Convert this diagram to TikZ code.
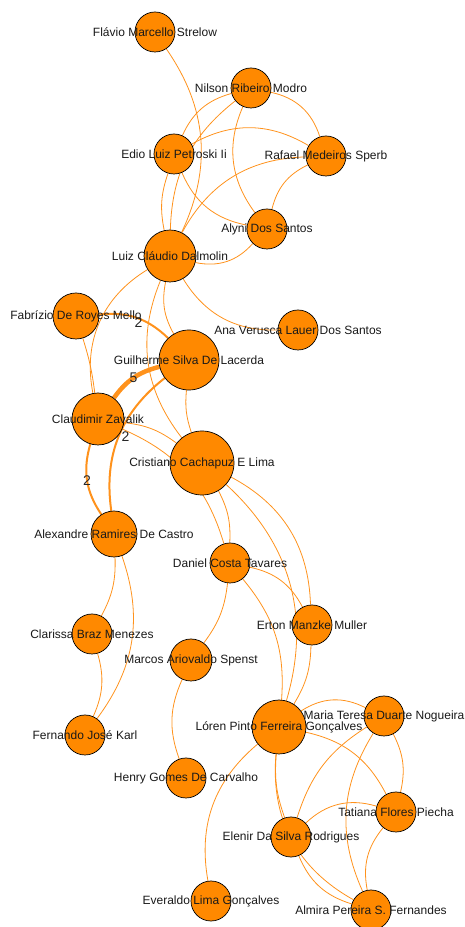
\documentclass[tikz,border=0pt]{standalone}
\usepackage{fontspec}
\setmainfont{Liberation Sans}
\usetikzlibrary{backgrounds}
\definecolor{nodeorange}{RGB}{255,137,0}
\definecolor{linkorange}{RGB}{255,146,28}
\tikzset{
  person/.style = {circle, draw=black, fill=nodeorange, inner sep=0pt,
    minimum size=40pt, line width=0.7pt},
  dia/.style = {minimum size=#1pt},
  who/.style = {font=\fontsize{12}{14}\selectfont, text=black!90,
    inner sep=0pt},
  link/.style = {draw=linkorange, line width=0.8pt},
  wt/.style = {font=\fontsize{14}{16}\selectfont, text=black!85,
    inner sep=0pt}
}
\begin{document}
\begin{tikzpicture}[x=1pt, y=1pt]
\path[use as bounding box] (0,0) rectangle (465,927);
\node[person, label={[who]center:Flávio Marcello Strelow}] (F) at (155,895) {};
\node[person, label={[who]center:Nilson Ribeiro Modro}] (N) at (251,839) {};
\node[person, label={[who]center:Edio Luiz Petroski Ii}] (E) at (174,773) {};
\node[person, label={[who]center:Rafael Medeiros Sperb}] (R) at (326,771) {};
\node[person, label={[who]center:Alyni Dos Santos}] (A) at (267,698) {};
\node[person, dia=52, label={[who]center:Luiz Cláudio Dalmolin}] (L) at (170,671) {};
\node[person, dia=46, label={[who]center:Fabrízio De Royes Mello}] (Fa) at (76,611) {};
\node[person, label={[who]center:Ana Verusca Lauer Dos Santos}] (Ana) at (298,597) {};
\node[person, dia=60, label={[who]center:Guilherme Silva De Lacerda}] (G) at (189,567) {};
\node[person, dia=52, label={[who]center:Claudimir Zavalik}] (C) at (98,508) {};
\node[person, dia=64, label={[who]center:Cristiano Cachapuz E Lima}] (Cr) at (202,464) {};
\node[person, dia=46, label={[who]center:Alexandre Ramires De Castro}] (Al) at (114,393) {};
\node[person, label={[who]center:Daniel Costa Tavares}] (D) at (230,364) {};
\node[person, label={[who]center:Erton Manzke Muller}] (Er) at (312,302) {};
\node[person, label={[who]center:Clarissa Braz Menezes}] (Cl) at (92,293) {};
\node[person, dia=42, label={[who]center:Marcos Ariovaldo Spenst}] (M) at (191,267) {};
\node[person, label={[who]center:Fernando José Karl}] (Fe) at (85,192) {};
\node[person, dia=54, label={[who]center:Lóren Pinto Ferreira Gonçalves}] (Lo) at (279,200) {};
\node[person, label={[who]center:Maria Teresa Duarte Nogueira}] (Ma) at (384,211) {};
\node[person, label={[who]center:Henry Gomes De Carvalho}] (H) at (186,149) {};
\node[person, label={[who]center:Tatiana Flores Piecha}] (T) at (396,115) {};
\node[person, label={[who]center:Elenir Da Silva Rodrigues}] (El) at (291,90) {};
\node[person, label={[who]center:Everaldo Lima Gonçalves}] (Ev) at (211,26) {};
\node[person, label={[who]center:Almira Pereira S. Fernandes}] (Am) at (371,17) {};
\begin{scope}[on background layer, every path/.style=link]
\draw (F) to[bend left=30] (L);
\draw (N) to[bend right=25] (E);
\draw (N) to[bend right=25] (L);
\draw (N) to[bend left=30] (R);
\draw (N) to[bend right=30] (A);
\draw (E) to[bend left=30] (R);
\draw (E) to[bend right=28] (A);
\draw (E) to[bend right=15] (L);
\draw (R) to[bend right=30] (L);
\draw (R) to[bend right=25] (A);
\draw (L) to[bend right=30] (A);
\draw (L) to[bend right=30] (Ana);
\draw (L) to[bend right=35] (C);
\draw (L) to[bend right=20] (G);
\draw (L) to[bend right=30] (Cr);
\draw (G) to[bend right=12] (Cr);
\draw[line width=2pt] (Fa) to[bend left=25] node[wt, yshift=-5pt, xshift=2pt] {2} (G);
\draw (Fa) to[bend left=5] (C);
\draw[line width=4.5pt] (G) to[bend right=20] node[wt] {5} (C);
\draw[line width=2pt] (G) to[bend right=30] node[wt, xshift=7pt] {2} (Al);
\draw[line width=2pt] (C) to[bend right=25] node[wt] {2} (Al);
\draw (C) to[bend left=15] (Cr);
\draw (C) to[bend left=25] (D);
\draw (Cr) to[bend left=15] (D);
\draw (Cr) to[bend left=30] (Er);
\draw (Cr) to[bend left=32] (Lo);
\draw (D) to[bend left=25] (Er);
\draw (D) to[bend left=22] (Lo);
\draw (D) to[bend left=15] (M);
\draw (Er) to[bend left=15] (Lo);
\draw (Al) to[bend left=15] (Cl);
\draw (Al) to[bend left=28] (Fe);
\draw (Cl) to[bend left=20] (Fe);
\draw (M) to[bend right=22] (H);
\draw (Lo) to[bend right=30] (Ev);
\draw (Lo) to[bend left=30] (Ma);
\draw (Lo) to[bend left=25] (T);
\draw (Lo) to[bend right=12] (El);
\draw (Lo) to[bend right=33] (Am);
\draw (Ma) to[bend right=20] (El);
\draw (Ma) to[bend right=28] (Am);
\draw (Ma) to[bend left=20] (T);
\draw (El) to[bend left=30] (T);
\draw (El) to[bend right=25] (Am);
\draw (T) to[bend right=25] (Am);
\end{scope}
\end{tikzpicture}
\end{document}
